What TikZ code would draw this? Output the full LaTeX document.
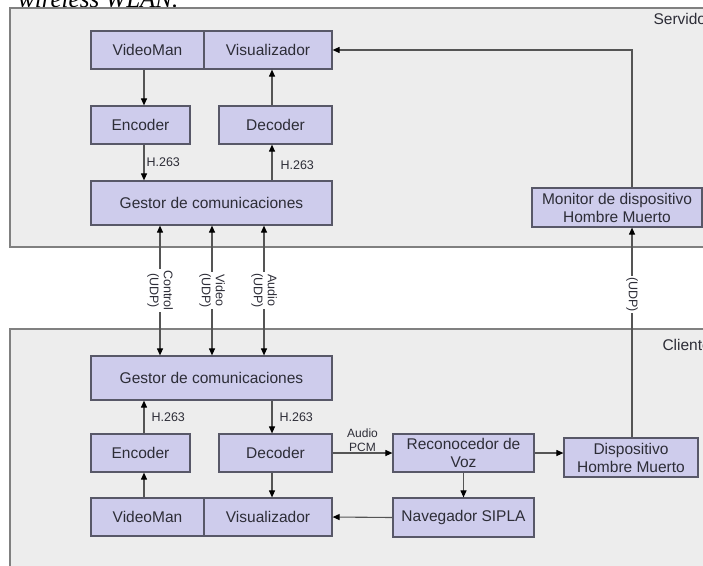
\documentclass[tikz,border=0pt]{standalone}
\usepackage{fontspec}
\setmainfont{Liberation Sans}
\newfontfamily\capfont{Liberation Serif}
\usepackage{xcolor}
\usepackage{tikz}
\usetikzlibrary{
  positioning,
  calc,
  arrows.meta
}

\definecolor{lila}{RGB}{206,204,236}
\definecolor{bordelila}{RGB}{88,88,104}
\definecolor{fondo}{RGB}{237,237,237}
\definecolor{bordefondo}{RGB}{128,128,128}
\definecolor{linea}{RGB}{85,85,85}
\definecolor{texto}{RGB}{45,45,55}

\tikzset{
  caja/.style={draw=bordelila, line width=1.2pt, fill=lila, inner sep=0pt,
    align=center, text=texto, font=\fontsize{15.5}{18}\selectfont},
  panel/.style={draw=bordefondo, line width=1.6pt, fill=fondo},
  flecha/.style={-{Triangle[length=7pt,width=6pt,color=black]}, draw=linea, line width=1.1pt},
  doble/.style={{Triangle[length=7pt,width=6pt,color=black]}-{Triangle[length=7pt,width=6pt,color=black]},
    draw=linea, line width=1.1pt},
  etiqueta/.style={font=\fontsize{12.5}{14}\selectfont, text=texto}
}

\begin{document}
\begin{tikzpicture}[x=1pt,y=-1pt]
  \useasboundingbox (0,0) rectangle (703,565);
  \fill[white] (0,0) rectangle (703,565);
  \clip (0,0) rectangle (703,565);

  % 見出しの残り
  \node[anchor=base west, inner sep=0pt, font=\capfont\itshape\fontsize{25}{28}\selectfont]
    (titulo) at (18,7) {wireless WLAN.};

  % 領域
  \draw[panel] (10,8) rectangle (730,247);
  \draw[panel] (10,329) rectangle (730,590);
  \node[anchor=west, text=texto, font=\fontsize{15.5}{18}\selectfont] (servidor) at (650,19) {Servidor};
  \node[anchor=west, text=texto, font=\fontsize{15.5}{18}\selectfont] (cliente) at (659,345) {Cliente};

  % 列
  \coordinate (colA) at (144,0);
  \coordinate (colB) at (272,0);
  \coordinate (colD) at (632,0);

  % サーバ側
  \node[caja, minimum width=113pt, minimum height=38pt] (sVideoMan) at (147.5,50) {VideoMan};
  \node[caja, minimum width=128pt, minimum height=38pt] (sVisual) at (268,50) {Visualizador};
  \node[caja, minimum width=99pt, minimum height=38pt] (sEncoder) at (140.5,125) {Encoder};
  \node[caja, minimum width=113pt, minimum height=38pt] (sDecoder) at (275.5,125) {Decoder};
  \node[caja, minimum width=241pt, minimum height=44pt] (sGestor) at (211.5,203) {Gestor de comunicaciones};
  \node[caja, minimum width=170pt, minimum height=39pt] (sMonitor) at (617,207.5) {Monitor de dispositivo\\Hombre Muerto};

  % クライアント側
  \node[caja, minimum width=241pt, minimum height=44pt] (cGestor) at (211.5,378) {Gestor de comunicaciones};
  \node[caja, minimum width=99pt, minimum height=38pt] (cEncoder) at (140.5,453) {Encoder};
  \node[caja, minimum width=113pt, minimum height=38pt] (cDecoder) at (275.5,453) {Decoder};
  \node[caja, minimum width=113pt, minimum height=38pt] (cVideoMan) at (147.5,517) {VideoMan};
  \node[caja, minimum width=128pt, minimum height=38pt] (cVisual) at (268,517) {Visualizador};
  \node[caja, minimum width=141pt, minimum height=38pt] (cReco) at (463.5,453) {Reconocedor de\\Voz};
  \node[caja, minimum width=141pt, minimum height=39pt] (cNav) at (463.5,517.5) {Navegador SIPLA};
  \node[caja, minimum width=134pt, minimum height=39pt] (cDisp) at (631,457.5) {Dispositivo\\Hombre Muerto};

  % サーバ側の矢印
  \draw[flecha] (sVideoMan.south -| colA) -- (sEncoder.north -| colA);
  \draw[flecha] (sEncoder.south -| colA) -- (sGestor.north -| colA)
    node[midway, right, etiqueta, inner sep=2pt] {H.263};
  \draw[flecha] (sGestor.north -| colB) -- (sDecoder.south -| colB)
    node[midway, right, etiqueta, inner sep=2pt, xshift=6pt, yshift=-3pt] {H.263};
  \draw[flecha] (sDecoder.north -| colB) -- (sVisual.south -| colB);
  \draw[flecha] (sMonitor.north -| colD) |- (sVisual.east);

  % 通信
  \draw[doble] (sGestor.south -| 160,0) -- (cGestor.north -| 160,0)
    node[midway, rotate=-90, fill=white, inner sep=1pt, align=center, etiqueta] {Control\\(UDP)};
  \draw[doble] (sGestor.south -| 212,0) -- (cGestor.north -| 212,0)
    node[midway, rotate=-90, fill=white, inner sep=1pt, align=center, etiqueta] {Video\\(UDP)};
  \draw[doble] (sGestor.south -| 264,0) -- (cGestor.north -| 264,0)
    node[midway, rotate=-90, fill=white, inner sep=1pt, align=center, etiqueta] {Audio\\(UDP)};
  \draw[flecha] (cDisp.north -| colD) -- (sMonitor.south -| colD)
    node[pos=0.68, rotate=-90, fill=white, inner sep=1pt, etiqueta] {(UDP)};

  % クライアント側の矢印
  \draw[flecha] (cEncoder.north -| colA) -- (cGestor.south -| colA)
    node[midway, right, etiqueta, inner sep=2pt, xshift=5pt] {H.263};
  \draw[flecha] (cGestor.south -| colB) -- (cDecoder.north -| colB)
    node[midway, right, etiqueta, inner sep=2pt, xshift=5pt] {H.263};
  \draw[flecha] (cVideoMan.north -| colA) -- (cEncoder.south -| colA);
  \draw[flecha] (cDecoder.south -| colB) -- (cVisual.north -| colB);
  \draw[flecha] (cDecoder.east) -- (cReco.west)
    node[midway, above, align=center, inner sep=1pt, font=\fontsize{12}{13.5}\selectfont, text=texto] {Audio\\PCM};
  \draw[flecha] (cReco.east) -- (cReco.east -| cDisp.west);
  \draw[flecha] (cReco.south) -- (cNav.north);
  \draw[flecha] (cNav.west) -- (cVisual.east);
\end{tikzpicture}
\end{document}
